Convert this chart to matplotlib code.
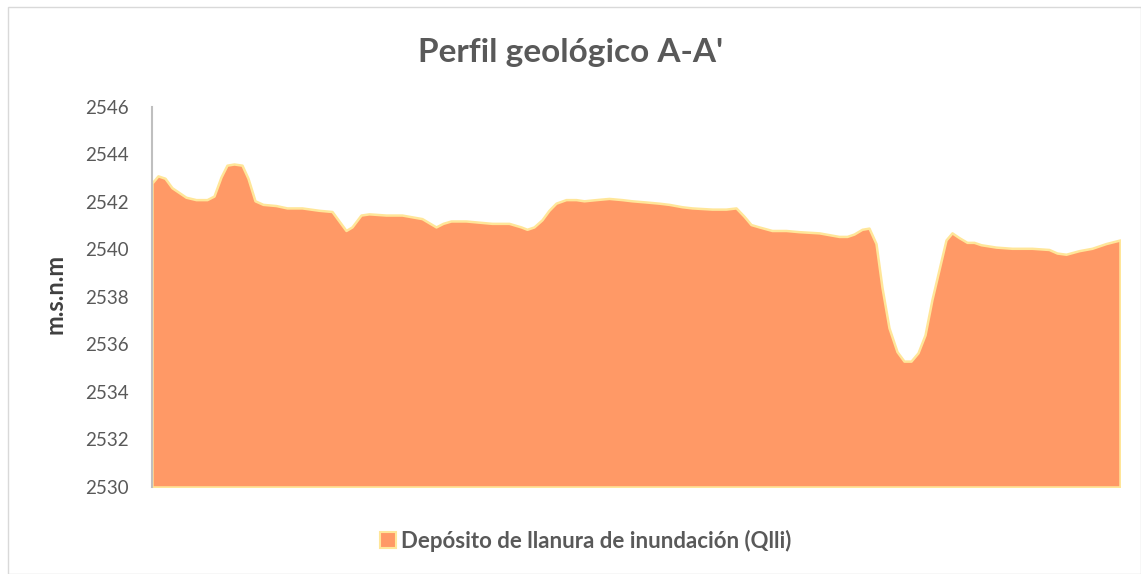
import numpy as np
import matplotlib.pyplot as plt
from matplotlib.patches import Rectangle
from matplotlib.lines import Line2D

plt.rcParams['font.family'] = ['Lato', 'DejaVu Sans']

# distancia a lo largo del perfil (unidades relativas) y cota
dist = [0, 6, 13, 20, 27, 34, 44, 55, 62, 69, 75, 82, 90, 96, 103, 111, 124, 135,
        150, 167, 180, 194, 200, 209, 217, 234, 250, 270, 284, 291, 299, 314, 327,
        340, 357, 369, 375, 382, 390, 397, 404, 414, 424, 432, 444, 457, 470, 480,
        494, 507, 517, 530, 540, 560, 574, 584, 592, 599, 607, 620, 634, 647, 667,
        687, 695, 702, 710, 717, 724, 730, 737, 745, 752, 759, 766, 773, 780, 787,
        794, 800, 807, 815, 822, 829, 844, 860, 880, 897, 905, 914, 927, 940, 954,
        968]
cota = [2542.8, 2543.1, 2543.0, 2542.6, 2542.4, 2542.2, 2542.1, 2542.1, 2542.25,
        2543.05, 2543.55, 2543.6, 2543.55, 2543.0, 2542.05, 2541.9, 2541.85,
        2541.75, 2541.75, 2541.65, 2541.6, 2540.8, 2540.95, 2541.45, 2541.5,
        2541.45, 2541.45, 2541.3, 2540.95, 2541.1, 2541.2, 2541.2, 2541.15,
        2541.1, 2541.1, 2540.95, 2540.85, 2540.95, 2541.25, 2541.65, 2541.95,
        2542.1, 2542.1, 2542.05, 2542.1, 2542.15, 2542.1, 2542.05, 2542.0,
        2541.95, 2541.9, 2541.8, 2541.75, 2541.7, 2541.7, 2541.75, 2541.4,
        2541.05, 2540.95, 2540.8, 2540.8, 2540.75, 2540.7, 2540.55, 2540.55,
        2540.65, 2540.85, 2540.9, 2540.25, 2538.4, 2536.7, 2535.7, 2535.3,
        2535.3, 2535.65, 2536.4, 2537.9, 2539.15, 2540.4, 2540.7, 2540.5,
        2540.3, 2540.3, 2540.2, 2540.1, 2540.05, 2540.05, 2540.0, 2539.85,
        2539.8, 2539.95, 2540.05, 2540.25, 2540.4]
yticks = np.arange(2530, 2547, 2)

fill_col = '#FF9966'
edge_col = '#FFE699'
txt_col = '#595959'

fig = plt.figure(figsize=(11.41, 5.74), dpi=100)
fig.patches.append(Rectangle((0.007, 0.0), 0.993, 0.988, transform=fig.transFigure,
                             fill=False, edgecolor='#D9D9D9', linewidth=1))
ax = fig.add_axes([0.1332, 0.1516, 0.8484, 0.662])

ax.fill_between(dist, cota, 2530, facecolor=fill_col, edgecolor=edge_col, linewidth=1.8)
ax.set_xlim(0, 968)
ax.set_ylim(2530, 2546)
ax.set_yticks(yticks)
ax.set_xticks([])
ax.tick_params(axis='y', length=0, labelsize=13.5, labelcolor=txt_col, pad=17)
for s in ['top', 'right', 'bottom']:
    ax.spines[s].set_visible(False)
ax.spines['left'].set_color('#BFBFBF')
ax.spines['left'].set_linewidth(1.5)

fig.text(0.048, 0.488, 'm.s.n.m', rotation=90, ha='center', va='center',
         fontsize=17, fontweight='bold', color='#404040')
fig.text(0.5, 0.908, "Perfil geológico A-A'", ha='center', va='center',
         fontsize=24, fontweight='bold', color=txt_col)

h = Line2D([], [], marker='s', linestyle='none', markersize=11,
           markerfacecolor=fill_col, markeredgecolor=edge_col, markeredgewidth=1.5)
fig.legend([h], ['Depósito de llanura de inundación (Qlli)'], loc='center',
           bbox_to_anchor=(0.511, 0.058), frameon=False, handletextpad=0.0,
           handlelength=1.2, prop={'size': 16, 'weight': 'bold'}, labelcolor=txt_col)

fig.savefig('out.png', dpi=100)
